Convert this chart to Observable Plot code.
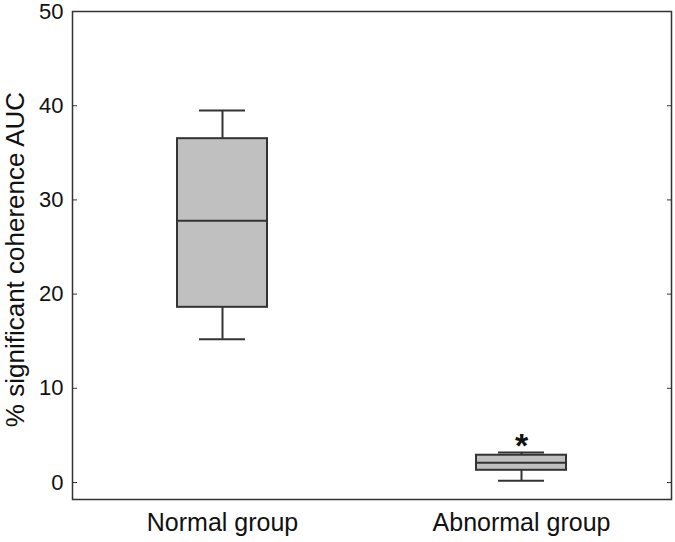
<!DOCTYPE html>
<html><head><meta charset="utf-8">
<script src="https://cdn.jsdelivr.net/npm/d3@7"></script>
<script src="https://cdn.jsdelivr.net/npm/@observablehq/plot@0.6"></script>
<style>body{margin:0;background:#fff;}</style>
</head><body><div id="chart"></div>
<script>
const groups = ["Normal group", "Abnormal group"];
const whiskerLow = [15.2, 0.2];
const q1 = [18.6, 1.3];
const median = [27.8, 2.1];
const q3 = [36.5, 2.9];
const whiskerHigh = [39.5, 3.2];
const marker = ["", "*"];
const yTicks = [0, 10, 20, 30, 40, 50];
const yLabel = "% significant coherence AUC";

const rows = groups.map((g, i) => ({group: g, lo: whiskerLow[i], q1: q1[i], med: median[i], q3: q3[i], hi: whiskerHigh[i], marker: marker[i]}));
const ink = "#333";

const chart = Plot.plot({
  width: 675, height: 542,
  marginLeft: 72, marginRight: 4, marginTop: 11, marginBottom: 43,
  style: {fontFamily: "'Liberation Sans', Arial, sans-serif", fontSize: "22px", color: "#111", background: "#fff"},
  x: {domain: groups, paddingInner: 0.7, paddingOuter: 0.35},
  y: {domain: [-1.8, 50]},
  marks: [
    Plot.axisY({ticks: yTicks, tickSize: -5, tickPadding: 14, label: null, fontSize: 22, stroke: ink}),
    Plot.axisY({anchor: "right", ticks: yTicks, tickSize: -5, tickFormat: () => "", label: null, stroke: ink}),
    Plot.axisX({tickSize: 0, tickPadding: 14, label: null, fontSize: 25}),
    Plot.text([yLabel], {frameAnchor: "left", textAnchor: "middle", rotate: -90, dx: -57, dy: 4, fontSize: 26, fill: "#111"}),
    Plot.ruleX(rows, {x: "group", y1: "lo", y2: "q1", stroke: ink, strokeWidth: 2}),
    Plot.ruleX(rows, {x: "group", y1: "q3", y2: "hi", stroke: ink, strokeWidth: 2}),
    Plot.barY(rows, {x: "group", y1: "q1", y2: "q3", fill: "#c0c0c0", stroke: ink, strokeWidth: 2}),
    Plot.tickY(rows, {x: "group", y: "med", stroke: ink, strokeWidth: 2}),
    Plot.tickY(rows, {x: "group", y: "lo", stroke: ink, strokeWidth: 2, insetLeft: 22, insetRight: 22}),
    Plot.tickY(rows, {x: "group", y: "hi", stroke: ink, strokeWidth: 2, insetLeft: 22, insetRight: 22}),
    Plot.text(rows, {x: "group", y: "hi", text: "marker", dy: -6, fontSize: 34, fontWeight: "bold", fill: "#111"}),
    Plot.frame({stroke: ink, strokeWidth: 1.5})
  ]
});
document.getElementById("chart").appendChild(chart);
</script>
</body></html>
